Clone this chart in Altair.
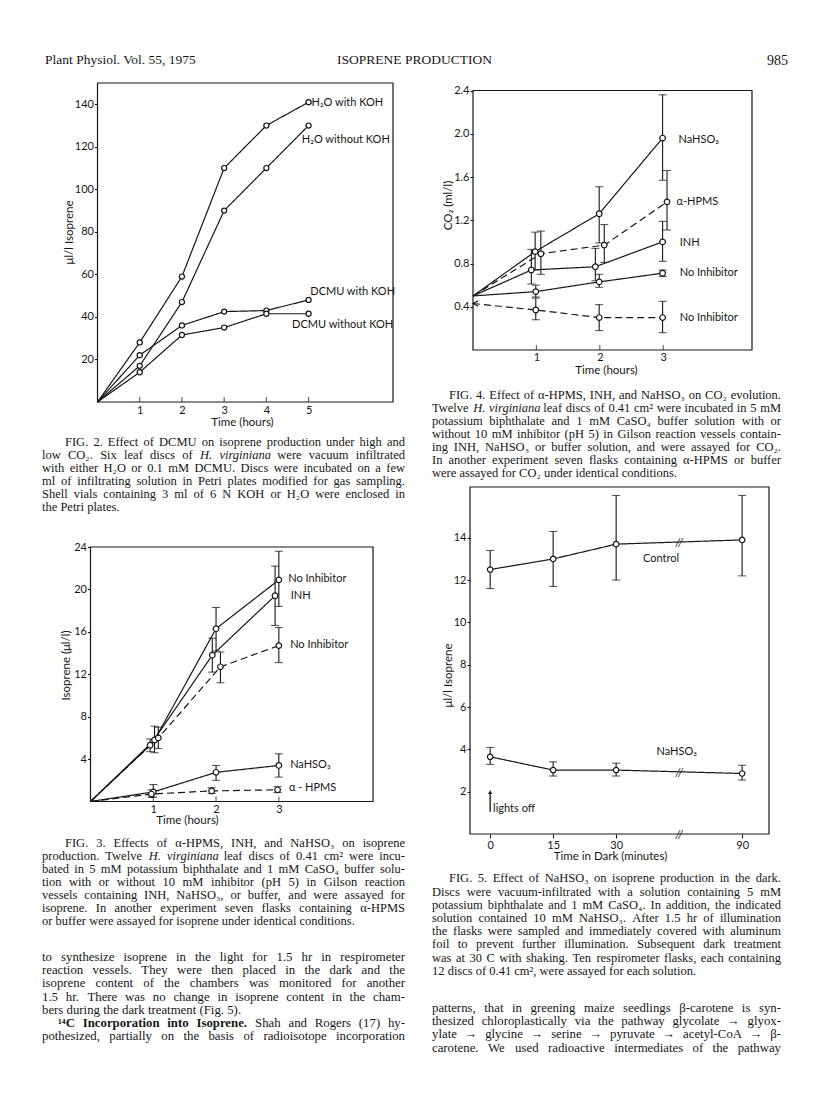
import altair as alt
import pandas as pd

SERIF = "Liberation Serif"
SANS = "Lato"
INK = "#161616"
W, H = 800, 1085          # view covers the page (page = view + 8)
OX, OY = 8, 8

# ---------------- Fig. 2 data ----------------
f2_hours = [0, 1, 2, 3, 4, 5]
f2_h2o_koh = [0, 28, 59, 110, 130, 141]
f2_h2o_nokoh = [0, 17, 47, 90, 110, 130]
f2_dcmu_koh = [0, 22, 36, 42.5, 43, 48]
f2_dcmu_nokoh = [0, 14, 31.5, 35, 41.5, 41.5]
f2_names = ["H₂O with KOH", "H₂O without KOH", "DCMU with KOH", "DCMU without KOH"]
f2_label_t = [5.07, 4.84, 5.04, 4.61]
f2_label_v = [140.6, 123.2, 51.9, 36.2]
f2_xticks = [1, 2, 3, 4, 5]
f2_yticks = [20, 40, 60, 80, 100, 120, 140]

# ---------------- Fig. 3 data ----------------
f3_names = ["No Inhibitor", "INH", "No Inhibitor (buffer)", "NaHSO₃", "α-HPMS"]
f3_dash = ["solid", "solid", "dashed", "solid", "dashed"]
f3_t = [[0, 1.02, 2.0, 3.0], [0, 0.95, 1.94, 2.94], [0, 1.08, 2.07, 3.0],
        [0, 1.0, 2.0, 3.0], [0, 0.97, 1.93, 2.98]]
f3_v = [[0, 5.8, 16.3, 20.9], [0, 5.3, 13.8, 19.4], [0, 6.0, 12.7, 14.7],
        [0, 0.9, 2.75, 3.4], [0, 0.7, 1.0, 1.1]]
f3_lo = [[4.6, 14.2, 18.4], [4.7, 12.2, 16.6], [5.0, 11.2, 13.1],
         [0.4, 2.0, 2.3], [0.4, 0.75, 0.85]]
f3_hi = [[7.1, 18.3, 23.6], [5.9, 15.4, 22.2], [7.0, 14.1, 16.4],
         [1.6, 3.4, 4.5], [1.1, 1.3, 1.4]]
f3_labels = ["No Inhibitor", "INH", "No Inhibitor", "NaHSO₃", "α - HPMS"]
f3_label_t = [3.15, 3.19, 3.18, 3.18, 3.16]
f3_label_v = [21.0, 19.4, 14.8, 3.45, 1.25]
f3_xticks = [1, 2, 3]
f3_yticks = [4, 8, 12, 16, 20, 24]

# ---------------- Fig. 4 data ----------------
f4_names = ["NaHSO₃", "α-HPMS", "INH", "No Inhibitor", "No Inhibitor (dark)"]
f4_dash = ["solid", "dashed", "solid", "solid", "dashed"]
f4_t = [[0, 0.98, 1.99, 2.99], [0, 1.07, 2.07, 3.06], [0, 0.92, 1.93, 2.99],
        [0, 0.99, 1.99, 2.99], [0, 0.99, 1.99, 2.99]]
f4_v = [[0.5, 0.91, 1.26, 1.96], [0.5, 0.89, 0.97, 1.37], [0.5, 0.74, 0.77, 1.00],
        [0.5, 0.54, 0.63, 0.71], [0.43, 0.37, 0.30, 0.30]]
f4_lo = [[0.74, 0.99, 1.57], [0.70, 0.81, 1.11], [0.61, 0.64, 0.82],
         [0.49, 0.58, 0.68], [0.28, 0.18, 0.16]]
f4_hi = [[1.09, 1.51, 2.36], [1.10, 1.16, 1.66], [0.93, 0.94, 1.19],
         [0.60, 0.70, 0.74], [0.48, 0.42, 0.45]]
f4_labels = ["NaHSO₃", "α-HPMS", "INH", "No Inhibitor", "No Inhibitor"]
f4_label_t = [3.24, 3.21, 3.26, 3.26, 3.26]
f4_label_v = [1.94, 1.37, 0.99, 0.71, 0.30]
f4_xticks = [1, 2, 3]
f4_yticks = [0.4, 0.8, 1.2, 1.6, 2.0, 2.4]

# ---------------- Fig. 5 data ----------------
f5_minutes = ["0", "15", "30", "90"]
f5_pos = [0, 15, 30, 60]            # 90 min drawn after the axis break
f5_control = [12.5, 13.0, 13.7, 13.9]
f5_control_lo = [11.6, 11.7, 12.0, 12.2]
f5_control_hi = [13.4, 14.3, 16.0, 16.0]
f5_nahso3 = [3.65, 3.02, 3.02, 2.86]
f5_nahso3_lo = [3.29, 2.74, 2.74, 2.55]
f5_nahso3_hi = [4.09, 3.41, 3.35, 3.25]
f5_labels = ["Control", "NaHSO₃"]
f5_label_t = [36.4, 39.6]
f5_label_v = [13.0, 3.86]
f5_break_t = [45, 45, 45]
f5_break_v = [13.8, 2.95, 0]
f5_yticks = [2, 4, 6, 8, 10, 12, 14]

# ---------------- page text ----------------
header_left = "Plant Physiol. Vol. 55, 1975"
header_mid = "ISOPRENE PRODUCTION"
header_right = "985"

cap2 = [
    "FIG. 2. Effect of DCMU on isoprene production under high and",
    "low CO₂. Six leaf discs of H. virginiana were vacuum infiltrated",
    "with either H₂O or 0.1 mM DCMU. Discs were incubated on a few",
    "ml of infiltrating solution in Petri plates modified for gas sampling.",
    "Shell vials containing 3 ml of 6 N KOH or H₂O were enclosed in",
    "the Petri plates.",
]
cap3 = [
    "FIG. 3. Effects of α-HPMS, INH, and NaHSO₃ on isoprene",
    "production. Twelve H. virginiana leaf discs of 0.41 cm² were incu-",
    "bated in 5 mM potassium biphthalate and 1 mM CaSO₄ buffer solu-",
    "tion with or without 10 mM inhibitor (pH 5) in Gilson reaction",
    "vessels containing INH, NaHSO₃, or buffer, and were assayed for",
    "isoprene. In another experiment seven flasks containing α-HPMS",
    "or buffer were assayed for isoprene under identical conditions.",
]
body_left = [
    "to synthesize isoprene in the light for 1.5 hr in respirometer",
    "reaction vessels. They were then placed in the dark and the",
    "isoprene content of the chambers was monitored for another",
    "1.5 hr. There was no change in isoprene content in the cham-",
    "bers during the dark treatment (Fig. 5).",
    "¹⁴C Incorporation into Isoprene. Shah and Rogers (17) hy-",
    "pothesized, partially on the basis of radioisotope incorporation",
]
cap4 = [
    "FIG. 4. Effect of α-HPMS, INH, and NaHSO₃ on CO₂ evolution.",
    "Twelve H. virginiana leaf discs of 0.41 cm² were incubated in 5 mM",
    "potassium biphthalate and 1 mM CaSO₄ buffer solution with or",
    "without 10 mM inhibitor (pH 5) in Gilson reaction vessels contain-",
    "ing INH, NaHSO₃ or buffer solution, and were assayed for CO₂.",
    "In another experiment seven flasks containing α-HPMS or buffer",
    "were assayed for CO₂ under identical conditions.",
]
cap5 = [
    "FIG. 5. Effect of NaHSO₃ on isoprene production in the dark.",
    "Discs were vacuum-infiltrated with a solution containing 5 mM",
    "potassium biphthalate and 1 mM CaSO₄. In addition, the indicated",
    "solution contained 10 mM NaHSO₃. After 1.5 hr of illumination",
    "the flasks were sampled and immediately covered with aluminum",
    "foil to prevent further illumination. Subsequent dark treatment",
    "was at 30 C with shaking. Ten respirometer flasks, each containing",
    "12 discs of 0.41 cm², were assayed for each solution.",
]
body_right = [
    "patterns, that in greening maize seedlings β-carotene is syn-",
    "thesized chloroplastically via the pathway glycolate → glyox-",
    "ylate → glycine → serine → pyruvate → acetyl-CoA → β-",
    "carotene. We used radioactive intermediates of the pathway",
]

# ---------------- justified text layout (Times metrics) ----------------
_TR = {' ': 250, '!': 333, '(': 333, ')': 333, ',': 250, '-': 333, '.': 250, '/': 278,
       ':': 278, ';': 278, '?': 444,
       'A': 722, 'B': 667, 'C': 667, 'D': 722, 'E': 611, 'F': 556, 'G': 722, 'H': 722,
       'I': 333, 'J': 389, 'K': 722, 'L': 611, 'M': 889, 'N': 722, 'O': 722, 'P': 556,
       'Q': 722, 'R': 667, 'S': 556, 'T': 611, 'U': 722, 'V': 722, 'W': 944, 'X': 722,
       'Y': 722, 'Z': 611,
       'a': 444, 'b': 500, 'c': 444, 'd': 500, 'e': 444, 'f': 333, 'g': 500, 'h': 500,
       'i': 278, 'j': 278, 'k': 500, 'l': 278, 'm': 778, 'n': 500, 'o': 500, 'p': 500,
       'q': 500, 'r': 333, 's': 389, 't': 278, 'u': 500, 'v': 500, 'w': 722, 'x': 500,
       'y': 500, 'z': 444,
       'α': 530, 'β': 500, 'μ': 500, '→': 1000, '²': 300, '₂': 350, '₃': 350, '₄': 350,
       '¹': 300, '⁴': 300}
_TB = dict(_TR)
_TB.update({'C': 722, 'I': 389, 'a': 500, 'n': 556, 'p': 556, 'r': 444, 't': 333})
ITALIC = {"H.", "virginiana"}


def wwidth(word, size, bold=False):
    tab = _TB if bold else _TR
    return sum(tab.get(c, 500) for c in word) / 1000.0 * size


def lay(rows, lines, x0, x1, yc0, lead, size, indent=None, ragged=(), bold_words=None):
    indent = indent or {}
    bold_words = bold_words or {}
    for i, line in enumerate(lines):
        words = line.split(" ")
        nb = bold_words.get(i, 0)
        styles = ["bold" if k < nb else ("italic" if w in ITALIC else "normal")
                  for k, w in enumerate(words)]
        widths = [wwidth(w, size, s == "bold") for w, s in zip(words, styles)]
        left = x0 + indent.get(i, 0)
        if i in ragged or len(words) == 1:
            gap = 0.25 * size
        else:
            gap = (x1 - left - sum(widths)) / (len(words) - 1)
        x = left
        base = yc0 + i * lead + 0.33 * size - OY
        for k, (w, s, wd) in enumerate(zip(words, styles, widths)):
            last = (k == len(words) - 1) and not (i in ragged or len(words) == 1)
            rows.append({"word": w, "px": (x1 if last else x) - OX, "py": base,
                         "style": s, "anchor": "right" if last else "left", "size": size})
            x += wd + gap
    return rows


# ---------------- helpers ----------------
AXB = dict(grid=False, domain=False, labelFont=SANS, labelFontSize=11, labelColor=INK,
           titleFont=SANS, titleFontSize=11.5, titleFontWeight="normal", titleColor=INK,
           tickColor=INK, tickWidth=1.1, labelFlush=False, labelOverlap=False)


def yaxis(axis_px, values, title, title_px, title_py, fmt=None):
    kw = dict(AXB)
    if fmt:
        kw["format"] = fmt
    return alt.Axis(orient="left", offset=-(axis_px - OX), values=values, tickSize=3,
                    labelPadding=1, title=title, titleX=title_px - axis_px,
                    titleY=title_py - OY, titleAngle=270, titleAlign="center",
                    titleBaseline="middle", **kw)


def xaxis(axis_py, values, title, title_px, title_dy, ticks=False, label_expr=None, pad=2):
    kw = dict(AXB)
    if label_expr:
        kw["labelExpr"] = label_expr
    return alt.Axis(orient="bottom", offset=(axis_py - OY) - H, values=values,
                    ticks=ticks, tickSize=4 if ticks else 0, labelPadding=pad,
                    title=title, titleX=title_px - OX, titleY=title_dy,
                    titleAlign="center", titleBaseline="middle", **kw)


def scale(domain, r0, r1):
    return alt.Scale(domain=domain, range=[r0, r1], nice=False, zero=False)


DASH = alt.StrokeDash("dash:N", scale=alt.Scale(domain=["solid", "dashed"],
                                                 range=[[1, 0], [7, 4]]), legend=None)


def build_series(names, dashes, ts, vs):
    rows = []
    for n, d, t, v in zip(names, dashes, ts, vs):
        for ti, vi in zip(t, v):
            rows.append({"series": n, "dash": d, "t": ti, "v": vi})
    return pd.DataFrame(rows)


def build_err(names, ts, los, his):
    rows = []
    for n, t, lo, hi in zip(names, ts, los, his):
        for ti, l, h in zip(t[-len(lo):], lo, hi):
            rows.append({"series": n, "t": ti, "lo": l, "hi": h})
    return pd.DataFrame(rows)


def figure(sx, sy, ax, ay, lines, err, pts, labels, frame, inticks, psize):
    X = alt.X("t", type="quantitative", scale=sx, axis=ax)
    Y = alt.Y("v", type="quantitative", scale=sy, axis=ay)
    layers = [
        alt.Chart(frame).mark_rect(fillOpacity=0, stroke=INK, strokeWidth=1.2).encode(
            x=X, x2="t2", y=Y, y2="v2"),
        alt.Chart(lines).mark_line(color=INK, strokeWidth=1.2).encode(
            x=X, y=Y, detail="series:N", strokeDash=DASH),
    ]
    if err is not None:
        Ylo = alt.Y("lo", type="quantitative", scale=sy, axis=ay)
        Yhi = alt.Y("hi", type="quantitative", scale=sy, axis=ay)
        layers += [
            alt.Chart(err).mark_rule(color=INK, strokeWidth=1.1).encode(x=X, y=Ylo, y2="hi"),
            alt.Chart(err).mark_tick(orient="horizontal", size=8, thickness=1.1, color=INK).encode(x=X, y=Ylo),
            alt.Chart(err).mark_tick(orient="horizontal", size=8, thickness=1.1, color=INK).encode(x=X, y=Yhi),
        ]
    layers.append(
        alt.Chart(pts).mark_circle(fill="white", stroke=INK, strokeWidth=1.2, size=psize, opacity=1).encode(
            x=X, y=Y))
    layers.append(
        alt.Chart(labels).mark_text(align="left", baseline="middle", font=SANS, fontSize=11, color=INK).encode(
            x=X, y=Y, text="label:N"))
    if inticks is not None:
        layers.append(
            alt.Chart(inticks).mark_tick(orient="vertical", size=5, thickness=1.1, yOffset=-2.5, color=INK).encode(
                x=X, y=Y))
    return layers


# ---------------- Fig. 2 ----------------
f2_lines = build_series(f2_names, ["solid"] * 4, [f2_hours] * 4,
                        [f2_h2o_koh, f2_h2o_nokoh, f2_dcmu_koh, f2_dcmu_nokoh])
f2_sx = scale([0, 7], 97.5 - OX, 393 - OX)
f2_sy = scale([0, 150], 402 - OY, 83 - OY)
f2_ax = xaxis(402, f2_xticks, "Time (hours)", 242, 20)
f2_ay = yaxis(97.5, f2_yticks, "μl/l Isoprene", 69, 232)
fig2 = alt.layer(*figure(
    f2_sx, f2_sy, f2_ax, f2_ay, f2_lines, None, f2_lines[f2_lines.t > 0],
    pd.DataFrame({"t": f2_label_t, "v": f2_label_v, "label": f2_names}),
    pd.DataFrame({"t": [0], "t2": [7], "v": [0], "v2": [150]}),
    pd.DataFrame({"t": f2_xticks, "v": [0] * len(f2_xticks)}), 26))

# ---------------- Fig. 3 ----------------
f3_lines = build_series(f3_names, f3_dash, f3_t, f3_v)
f3_err = build_err(f3_names, f3_t, f3_lo, f3_hi)
f3_sx = scale([0, 4.5], 90.5 - OX, 373 - OX)
f3_sy = scale([0, 24], 801.5 - OY, 547 - OY)
f3_ax = xaxis(801.5, f3_xticks, "Time (hours)", 187, 19)
f3_ay = yaxis(90.5, f3_yticks, "Isoprene (μl/l)", 66.7, 665)
fig3 = alt.layer(*figure(
    f3_sx, f3_sy, f3_ax, f3_ay, f3_lines, f3_err, f3_lines[f3_lines.t > 0],
    pd.DataFrame({"t": f3_label_t, "v": f3_label_v, "label": f3_labels}),
    pd.DataFrame({"t": [0], "t2": [4.5], "v": [0], "v2": [24]}),
    pd.DataFrame({"t": f3_xticks, "v": [0] * len(f3_xticks)}), 32))

# ---------------- Fig. 4 ----------------
f4_lines = build_series(f4_names, f4_dash, f4_t, f4_v)
f4_err = build_err(f4_names, f4_t, f4_lo, f4_hi)
f4_sx = scale([0, 4.4], 473 - OX, 752 - OX)
f4_sy = scale([0, 2.4], 350 - OY, 90.5 - OY)
f4_ax = xaxis(350, f4_xticks, "Time (hours)", 606, 20, pad=1)
f4_ay = yaxis(473, f4_yticks, "CO₂ (ml/l)", 448, 205, fmt=".1f")
f4_arrow = alt.Chart(pd.DataFrame({"t": [0], "v": [f4_v[4][0]]})).mark_point(
    shape="M0.7,-0.9L-1,0L0.7,0.9", filled=False, stroke=INK, strokeWidth=1.1, size=40,
    xOffset=3, opacity=1).encode(
    x=alt.X("t", type="quantitative", scale=f4_sx, axis=f4_ax),
    y=alt.Y("v", type="quantitative", scale=f4_sy, axis=f4_ay))
fig4 = alt.layer(*figure(
    f4_sx, f4_sy, f4_ax, f4_ay, f4_lines, f4_err, f4_lines[f4_lines.t > 0],
    pd.DataFrame({"t": f4_label_t, "v": f4_label_v, "label": f4_labels}),
    pd.DataFrame({"t": [0], "t2": [4.4], "v": [0], "v2": [2.4]}),
    pd.DataFrame({"t": f4_xticks, "v": [0] * len(f4_xticks)}), 32), f4_arrow)

# ---------------- Fig. 5 ----------------
f5_lines = build_series(["Control", "NaHSO₃"], ["solid", "solid"], [f5_pos, f5_pos],
                        [f5_control, f5_nahso3])
f5_err = build_err(["Control", "NaHSO₃"], [f5_pos, f5_pos],
                   [f5_control_lo, f5_nahso3_lo], [f5_control_hi, f5_nahso3_hi])
f5_sx = scale([-4.8, 66.4], 470 - OX, 769 - OX)
f5_sy = scale([0, 16.4], 834 - OY, 487 - OY)
f5_expr = "datum.value == 60 ? '90' : datum.label"
f5_ax = xaxis(834, f5_pos, "Time in Dark (minutes)", 610, 22, ticks=True,
              label_expr=f5_expr, pad=1)
f5_ay = yaxis(470, f5_yticks, "μl/l Isoprene", 448.3, 675)
X5 = alt.X("t", type="quantitative", scale=f5_sx, axis=f5_ax)
Y5 = alt.Y("v", type="quantitative", scale=f5_sy, axis=f5_ay)
f5_breaks = alt.Chart(pd.DataFrame({"t": f5_break_t, "v": f5_break_v})).mark_text(
    text="//", font=SANS, fontSize=12, fontStyle="italic", color=INK,
    baseline="middle", align="center").encode(x=X5, y=Y5)
f5_arrow_rule = alt.Chart(pd.DataFrame({"t": [0], "v": [1.05], "v2": [1.95]})).mark_rule(
    color=INK, strokeWidth=1.3).encode(x=X5, y=Y5, y2="v2")
f5_arrow_head = alt.Chart(pd.DataFrame({"t": [0], "v": [1.98]})).mark_point(
    shape="triangle-up", filled=True, color=INK, size=18, opacity=1).encode(x=X5, y=Y5)
f5_lights = alt.Chart(pd.DataFrame({"t": [0.7], "v": [1.18], "label": ["lights off"]})).mark_text(
    align="left", baseline="middle", font=SANS, fontSize=11, color=INK).encode(
    x=X5, y=Y5, text="label:N")
fig5 = alt.layer(*figure(
    f5_sx, f5_sy, f5_ax, f5_ay, f5_lines, f5_err, f5_lines,
    pd.DataFrame({"t": f5_label_t, "v": f5_label_v, "label": f5_labels}),
    pd.DataFrame({"t": [-4.8], "t2": [66.4], "v": [0], "v2": [16.4]}),
    None, 30), f5_breaks, f5_arrow_rule, f5_arrow_head, f5_lights)

# ---------------- page text layers ----------------
ONE = pd.DataFrame({"k": [0]})


def single(text, px, py_center, size, align):
    return alt.Chart(ONE).mark_text(
        text=text, align=align, baseline="alphabetic", font=SERIF, fontSize=size,
        color=INK).encode(x=alt.value(px - OX), y=alt.value(py_center + 0.33 * size - OY))


CAP, BODY = 12.5, 12.8
LX0, LX1, RX0, RX1 = 42, 405, 432, 781
rows = []
lay(rows, cap2, LX0, LX1, 442, 13, CAP, indent={0: 23}, ragged={5})
lay(rows, cap3, LX0, LX1, 842.5, 13, CAP, indent={0: 23}, ragged={6})
lay(rows, body_left, LX0, LX1, 957, 13.1, BODY, indent={5: 16}, ragged={4},
    bold_words={5: 4})
lay(rows, cap4, RX0, RX1, 394.5, 13.1, CAP, indent={0: 17}, ragged={6})
lay(rows, cap5, RX0, RX1, 878.3, 13.2, CAP, indent={0: 17}, ragged={7})
lay(rows, body_right, RX0, RX1, 1008, 13.1, BODY)
words = pd.DataFrame(rows)

word_layers = []
for style, anchor in [("normal", "left"), ("normal", "right"), ("italic", "left"),
                      ("bold", "left")]:
    kw = {}
    if style == "italic":
        kw["fontStyle"] = "italic"
    if style == "bold":
        kw["fontWeight"] = "bold"
    word_layers.append(
        alt.Chart(words).transform_filter(
            (alt.datum.style == style) & (alt.datum.anchor == anchor)
        ).mark_text(align=anchor, baseline="alphabetic", font=SERIF, color=INK, **kw).encode(
            x=alt.X("px:Q", scale=None, axis=None),
            y=alt.Y("py:Q", scale=None, axis=None),
            text="word:N",
            size=alt.Size("size:Q", scale=None, legend=None)))

texts = [
    single(header_left, 45, 60, 13.5, "left"),
    single(header_mid, 414.5, 60, 13.5, "center"),
    single(header_right, 788, 60, 14, "right"),
] + word_layers

chart = alt.layer(fig2, fig3, fig4, fig5, *texts).resolve_scale(
    x="independent", y="independent").properties(
    width=W, height=H, padding=0).configure_view(stroke=None)

chart.save("out.html", embed_options={"renderer": "svg", "actions": False})
